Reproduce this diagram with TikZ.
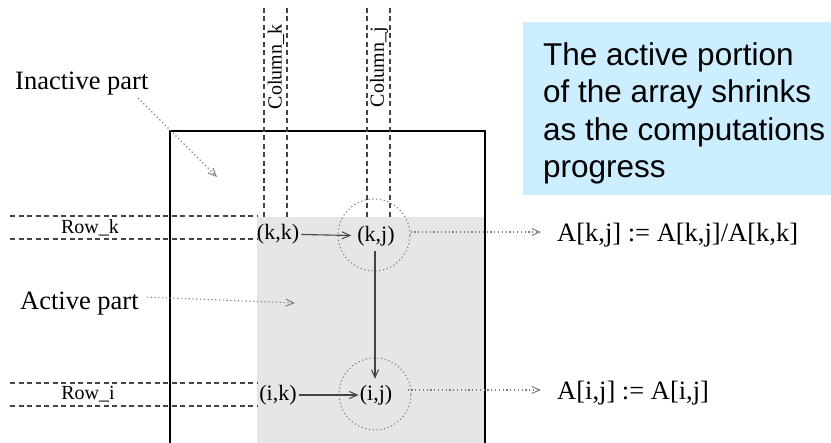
\documentclass[tikz,border=0pt]{standalone}
\usepackage{fontspec}
\setmainfont{Liberation Serif}
\newfontfamily\boxfont{Liberation Sans}
\usetikzlibrary{arrows.meta}
\definecolor{boxblue}{HTML}{CCEEFF}
\definecolor{activegray}{HTML}{E6E6E6}
\definecolor{linegray}{HTML}{444444}
\definecolor{dotgray}{HTML}{808080}
\tikzset{
  guide/.style={draw=linegray, line width=1.1pt, dash pattern=on 5pt off 3.5pt},
  dotline/.style={draw=dotgray, line width=1.1pt, dash pattern=on 1.2pt off 2.6pt},
  tip/.style={-{Straight Barb[length=8pt,width=7pt,line width=1pt]}},
  solidarrow/.style={draw=linegray, line width=1.1pt, tip},
  dotarrow/.style={dotline, tip},
  cell/.style={font=\fontsize{22}{24}\selectfont, inner sep=2pt},
  smalllabel/.style={font=\fontsize{20}{22}\selectfont, inner sep=0pt},
  biglabel/.style={font=\fontsize{26.5}{30}\selectfont, inner sep=0pt},
  region/.style={dotline, circle, minimum size=72pt, inner sep=0pt}
}
\begin{document}
\begin{tikzpicture}[x=1pt,y=-1pt]
\useasboundingbox (0,0) rectangle (831,443);
% active (gray) part
\fill[activegray] (257,217) rectangle (485,443);
% main array outline
\draw[line width=2pt] (170,443) -- (170,131) -- (485,131) -- (485,443);
% column guides
\draw[guide] (264,8) -- (264,217);
\draw[guide] (287,8) -- (287,217);
\draw[guide] (367,8) -- (367,217);
\draw[guide] (390,8) -- (390,217);
% row guides
\draw[guide] (10,216) -- (257,216);
\draw[guide] (10,239) -- (257,239);
\draw[guide] (10,383) -- (257,383);
\draw[guide] (10,406) -- (257,406);
% labels of guides
\node[smalllabel, rotate=90] (colk) at (276,67) {Column\_k};
\node[smalllabel, rotate=90] (colj) at (379,67) {Column\_j};
\node[smalllabel] (rowk) at (90,228) {Row\_k};
\node[smalllabel] (rowi) at (88,394) {Row\_i};
% part labels
\node[biglabel, anchor=base west] (inactive) at (15,90) {Inactive part};
\node[biglabel, anchor=base west] (active) at (20,310) {Active part};
\coordinate (inactiveend) at (217,177);
\coordinate (activeend) at (295,303);
\draw[dotarrow] (138,98) -- (inactiveend);
\draw[dotarrow] (active.east) ++(8,-7) -- (activeend);
% cells
\node[cell] (kk) at (278,234) {(k,k)};
\node[cell] (kj) at (376,236) {(k,j)};
\node[cell] (ik) at (278,395) {(i,k)};
\node[cell] (ij) at (376,395) {(i,j)};
\node[region] (ckj) at (374,235) {};
\node[region] (cij) at (375,394) {};
\draw[solidarrow, shorten >=4pt] (kk) -- (kj);
\draw[solidarrow, shorten <=3pt, shorten >=4pt] (kj.south -| 375,0) -- (ij.north -| 375,0);
\draw[solidarrow, shorten >=-1pt] (ik) -- (ij);
% equations
\node[biglabel, anchor=base west] (eq1) at (557,242) {A[k,j] := A[k,j]/A[k,k]};
\node[biglabel, anchor=base west] (eq2) at (557,400) {A[i,j] := A[i,j]};
\draw[dotarrow, shorten >=16pt] (ckj.east |- 0,232) -- (eq1.west |- 0,232);
\draw[dotarrow, shorten >=16pt] (cij.east |- 0,390) ++(-4,0) -- (eq2.west |- 0,390);
% note box
\node[fill=boxblue, anchor=north west, minimum width=308pt, minimum height=173pt, inner sep=0pt] (box) at (523,22) {};
\node[anchor=north west, align=left, inner sep=0pt, font=\boxfont\fontsize{31.5}{37.5}\selectfont] (note) at (box.north west) [xshift=20pt, yshift=-20pt] {The active portion\\of the array shrinks\\as the computations\\progress};
\end{tikzpicture}
\end{document}
